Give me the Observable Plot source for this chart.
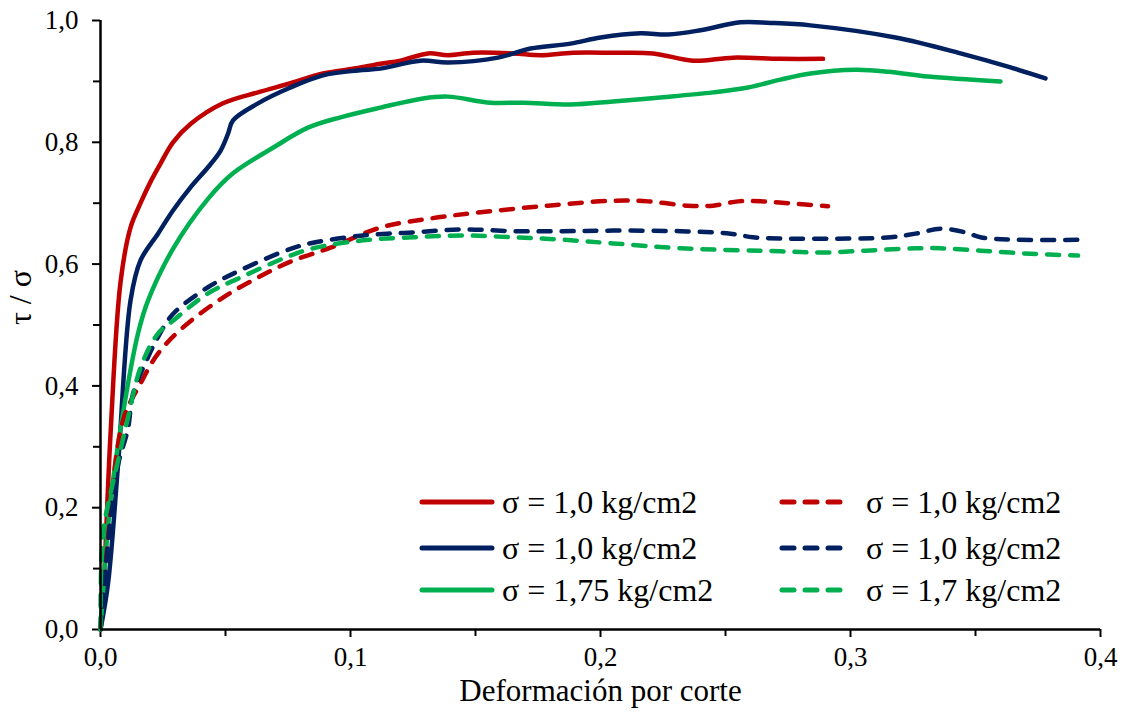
<!DOCTYPE html>
<html>
<head>
<meta charset="utf-8">
<script src="https://cdn.jsdelivr.net/npm/d3@7"></script>
<script src="https://cdn.jsdelivr.net/npm/@observablehq/plot@0.6"></script>
<style>
  html, body { margin: 0; padding: 0; background: #fff; }
  #wrap { position: relative; width: 1125px; height: 714px; font-family: "Liberation Serif", "Times New Roman", serif; }
  #legend { position: absolute; left: 418px; top: 482px; font-size: 32px; color: #000; }
  .row { position: absolute; white-space: nowrap; height: 40px; display: flex; align-items: center; }
  .row svg { margin-right: 4px; }
</style>
</head>
<body>
<div id="wrap"></div>
<script>
// ---------- data ----------
const seriesLabels = ["σ = 1,0 kg/cm2", "σ = 1,0 kg/cm2", "σ = 1,75 kg/cm2", "σ = 1,0 kg/cm2", "σ = 1,0 kg/cm2", "σ = 1,7 kg/cm2"];
const seriesColors = ["#C00000", "#002060", "#00B050", "#C00000", "#002060", "#00B050"];
const seriesDashed = [false, false, false, true, true, true];

const redSolidX = [0, 0.001, 0.004, 0.008, 0.012, 0.016, 0.020, 0.024, 0.029, 0.036, 0.049, 0.063, 0.076, 0.089, 0.103, 0.112, 0.120, 0.131, 0.139, 0.149, 0.165, 0.176, 0.189, 0.205, 0.221, 0.237, 0.253, 0.272, 0.289];
const redSolidY = [0, 0.048, 0.32, 0.57, 0.66, 0.70, 0.735, 0.765, 0.80, 0.83, 0.864, 0.882, 0.897, 0.913, 0.922, 0.929, 0.934, 0.946, 0.943, 0.947, 0.946, 0.943, 0.947, 0.947, 0.946, 0.934, 0.939, 0.937, 0.937];

const navySolidX = [0, 0.003, 0.007, 0.012, 0.016, 0.023, 0.029, 0.036, 0.043, 0.048, 0.051, 0.053, 0.063, 0.076, 0.089, 0.103, 0.112, 0.128, 0.139, 0.159, 0.172, 0.188, 0.200, 0.216, 0.227, 0.240, 0.256, 0.268, 0.284, 0.318, 0.344, 0.364, 0.378];
const navySolidY = [0, 0.075, 0.27, 0.54, 0.606, 0.65, 0.688, 0.726, 0.759, 0.786, 0.814, 0.836, 0.864, 0.89, 0.91, 0.918, 0.921, 0.934, 0.931, 0.939, 0.954, 0.962, 0.972, 0.979, 0.977, 0.984, 0.997, 0.996, 0.992, 0.972, 0.946, 0.923, 0.905];

const greenSolidX = [0, 0.004, 0.009, 0.015, 0.019, 0.029, 0.043, 0.053, 0.069, 0.083, 0.096, 0.112, 0.129, 0.139, 0.156, 0.169, 0.188, 0.205, 0.225, 0.245, 0.259, 0.272, 0.284, 0.302, 0.315, 0.331, 0.360];
const greenSolidY = [0, 0.21, 0.355, 0.486, 0.54, 0.625, 0.707, 0.749, 0.791, 0.824, 0.841, 0.857, 0.872, 0.875, 0.865, 0.865, 0.862, 0.867, 0.874, 0.882, 0.89, 0.903, 0.913, 0.919, 0.916, 0.908, 0.90];

const redDashX = [0, 0.003, 0.009, 0.016, 0.023, 0.033, 0.049, 0.063, 0.076, 0.092, 0.112, 0.132, 0.152, 0.179, 0.205, 0.219, 0.235, 0.245, 0.255, 0.264, 0.275, 0.291];
const redDashY = [0, 0.15, 0.343, 0.404, 0.453, 0.496, 0.545, 0.578, 0.604, 0.627, 0.66, 0.675, 0.685, 0.696, 0.704, 0.703, 0.696, 0.696, 0.703, 0.703, 0.70, 0.695];

const navyDashX = [0, 0.001, 0.004, 0.007, 0.011, 0.013, 0.019, 0.023, 0.029, 0.043, 0.056, 0.076, 0.085, 0.105, 0.125, 0.145, 0.165, 0.185, 0.205, 0.232, 0.252, 0.261, 0.272, 0.299, 0.316, 0.326, 0.336, 0.346, 0.352, 0.366, 0.392];
const navyDashY = [0, 0.048, 0.18, 0.27, 0.33, 0.387, 0.447, 0.48, 0.518, 0.562, 0.59, 0.625, 0.635, 0.647, 0.652, 0.657, 0.654, 0.654, 0.655, 0.654, 0.65, 0.644, 0.642, 0.642, 0.644, 0.65, 0.658, 0.652, 0.644, 0.64, 0.64];

const greenDashX = [0, 0.001, 0.004, 0.007, 0.011, 0.016, 0.023, 0.029, 0.043, 0.056, 0.076, 0.085, 0.105, 0.125, 0.145, 0.165, 0.185, 0.205, 0.232, 0.272, 0.288, 0.306, 0.326, 0.336, 0.352, 0.372, 0.391];
const greenDashY = [0, 0.158, 0.223, 0.277, 0.348, 0.43, 0.486, 0.507, 0.552, 0.578, 0.614, 0.626, 0.639, 0.644, 0.647, 0.644, 0.64, 0.634, 0.626, 0.621, 0.619, 0.622, 0.626, 0.626, 0.622, 0.617, 0.614];

const xMajorTicks = [0, 0.1, 0.2, 0.3, 0.4];
const xMinorTicks = [0.05, 0.15, 0.25, 0.35];
const yMajorTicks = [0, 0.2, 0.4, 0.6, 0.8, 1.0];
const yMinorTicks = [0.1, 0.3, 0.5, 0.7, 0.9];
const xTitle = "Deformación por corte";
const yTitle = "τ / σ";

// ---------- build ----------
const allX = [redSolidX, navySolidX, greenSolidX, redDashX, navyDashX, greenDashX];
const allY = [redSolidY, navySolidY, greenSolidY, redDashY, navyDashY, greenDashY];
const rows = [];
allX.forEach((xs, s) => xs.forEach((x, i) => rows.push({s, x, y: allY[s][i]})));

const fmt = d => d.toFixed(1).replace(".", ",");
const FONT = "Liberation Serif, Times New Roman, serif";

const lineMarks = [];
for (let s = 0; s < 6; s++) {
  lineMarks.push(Plot.line(rows.filter(r => r.s === s), {
    x: "x", y: "y",
    stroke: seriesColors[s],
    strokeWidth: 4.5,
    curve: "catmull-rom",
    strokeLinecap: "round",
    strokeLinejoin: "round",
    strokeDasharray: seriesDashed[s] ? "12,11" : null
  }));
}

const chart = Plot.plot({
  width: 1125,
  height: 714,
  marginLeft: 100,
  marginRight: 25,
  marginTop: 20,
  marginBottom: 85,
  style: {fontFamily: FONT, background: "#fff", color: "#000"},
  x: {domain: [0, 0.4]},
  y: {domain: [0, 1.0]},
  marks: [
    Plot.axisX({ticks: xMajorTicks, tickFormat: fmt, tickSize: 8, tickPadding: 9, fontSize: 27, label: null, strokeWidth: 2}),
    Plot.axisX({ticks: xMinorTicks, tickFormat: () => "", tickSize: 7, label: null, strokeWidth: 2}),
    Plot.axisY({ticks: yMajorTicks, tickFormat: fmt, tickSize: 8, tickPadding: 14, fontSize: 27, label: null, strokeWidth: 2}),
    Plot.axisY({ticks: yMinorTicks, tickFormat: () => "", tickSize: 7, label: null, strokeWidth: 2}),
    ...lineMarks,
    Plot.ruleX([0], {stroke: "#000", strokeWidth: 2.5}),
    Plot.ruleY([0], {stroke: "#000", strokeWidth: 2.5}),
    Plot.text([xTitle], {frameAnchor: "bottom", dy: 71, fontSize: 31, fill: "#000"}),
    Plot.text([yTitle], {frameAnchor: "left", dx: -80, rotate: -90, fontSize: 32, fill: "#000"})
  ]
});

const wrap = document.getElementById("wrap");
wrap.appendChild(chart);

// ---------- legend (HTML overlay) ----------
const legend = document.createElement("div");
legend.id = "legend";
const colLeft = [0, 360];
const rowTop = [0, 46, 88];
for (let s = 0; s < 6; s++) {
  const col = seriesDashed[s] ? 1 : 0;
  const r = s % 3;
  const row = document.createElement("div");
  row.className = "row";
  row.style.left = colLeft[col] + "px";
  row.style.top = rowTop[r] + "px";
  const svgNS = "http://www.w3.org/2000/svg";
  const sw = document.createElementNS(svgNS, "svg");
  sw.setAttribute("width", col ? 84 : 80);
  sw.setAttribute("height", 12);
  const ln = document.createElementNS(svgNS, "line");
  ln.setAttribute("x1", 4); ln.setAttribute("x2", col ? 70 : 74);
  ln.setAttribute("y1", 6); ln.setAttribute("y2", 6);
  ln.setAttribute("stroke", seriesColors[s]);
  ln.setAttribute("stroke-width", 5);
  ln.setAttribute("stroke-linecap", "round");
  if (seriesDashed[s]) ln.setAttribute("stroke-dasharray", "12,11");
  sw.appendChild(ln);
  row.appendChild(sw);
  const t = document.createElement("span");
  t.textContent = seriesLabels[s];
  row.appendChild(t);
  legend.appendChild(row);
}
wrap.appendChild(legend);
</script>
</body>
</html>
